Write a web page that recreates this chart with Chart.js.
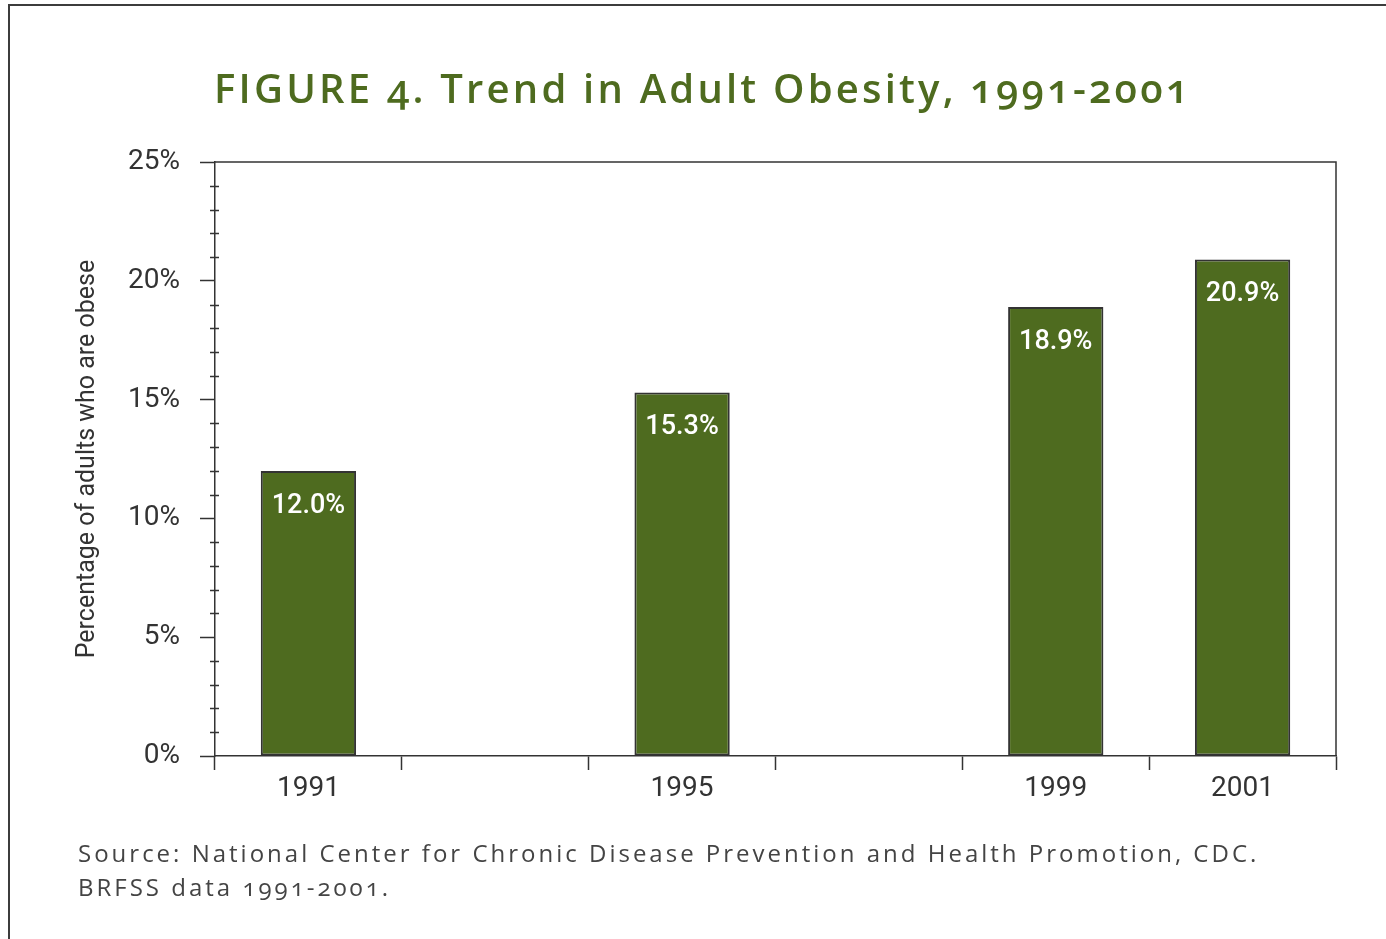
<!DOCTYPE html>
<html>
<head>
<meta charset="utf-8">
<script src="https://cdn.jsdelivr.net/npm/chart.js@4.4.1/dist/chart.umd.min.js"></script>
<style>
  html, body { margin: 0; padding: 0; background: #fff; }
  #wrap { position: relative; width: 1386px; height: 939px; overflow: hidden; }
  #frame { position: absolute; left: 8px; top: 4px; width: 1420px; height: 980px; border: 2px solid #3c3c3c; box-sizing: border-box; }
  #chart { position: absolute; left: 0; top: 0; }
  .title { position: absolute; left: 214px; top: 60px; font-family: "Open Sans", sans-serif; font-weight: 600;
    font-size: 40px; letter-spacing: 3.2px; color: #4e6b1f; white-space: nowrap; font-variant-numeric: oldstyle-nums; }
  .source { position: absolute; left: 78px; top: 836px; font-family: "Open Sans", sans-serif; font-size: 24px;
    letter-spacing: 3px; line-height: 34px; color: #444; white-space: nowrap; font-variant-numeric: oldstyle-nums; }
</style>
</head>
<body>
<div id="wrap">
  <div id="frame"></div>
  <canvas id="chart" width="1386" height="939"></canvas>
  <div class="title">FIGURE 4. Trend in Adult Obesity, 1991-2001</div>
  <div class="source">Source: National Center for Chronic Disease Prevention and Health Promotion, CDC.<br>BRFSS data 1991-2001.</div>
</div>
<script>
// obesity share by survey year (empty slots for the years between)
const years = ["1991", "1993", "1995", "1997", "1999", "2001"];
const obesity = [12.0, null, 15.3, null, 18.9, 20.9];
const yearLabels = ["1991", "", "1995", "", "1999", "2001"];
const yTicks = [0, 5, 10, 15, 20, 25];

const ink = "#333333";
const green = "#4e6b1f";
const axisFont = '"Liberation Sans Narrow", Roboto, sans-serif';

// short minor ticks on the y axis + top/right frame of the plot
const frameAndMinor = {
  id: "frameAndMinor",
  afterDraw(chart) {
    const ctx = chart.ctx;
    const a = chart.chartArea;
    const y = chart.scales.y;
    ctx.save();
    ctx.strokeStyle = ink;
    ctx.lineWidth = 1.5;
    ctx.beginPath();
    ctx.moveTo(a.left, a.top);
    ctx.lineTo(a.right, a.top);
    ctx.lineTo(a.right, a.bottom);
    for (let v = 0; v <= 25; v++) {
      if (yTicks.includes(v)) continue;
      const py = Math.round(y.getPixelForValue(v)) + 0.5;
      ctx.moveTo(a.left - 5, py);
      ctx.lineTo(a.left + 4, py);
    }
    ctx.stroke();
    ctx.restore();
  }
};

// value text inside the top of each bar
const barValues = {
  id: "barValues",
  afterDatasetsDraw(chart) {
    const ctx = chart.ctx;
    const meta = chart.getDatasetMeta(0);
    ctx.save();
    ctx.fillStyle = "#ffffff";
    ctx.font = "500 27px " + axisFont;
    ctx.textAlign = "center";
    ctx.textBaseline = "middle";
    meta.data.forEach((bar, i) => {
      if (obesity[i] == null) return;
      ctx.fillText(obesity[i].toFixed(1) + "%", bar.x, bar.y + 35);
    });
    ctx.restore();
  }
};

new Chart(document.getElementById("chart"), {
  type: "bar",
  data: {
    labels: years,
    datasets: [{
      data: obesity,
      backgroundColor: green,
      borderColor: ink,
      borderWidth: 2,
      borderSkipped: false,
      categoryPercentage: 1,
      barPercentage: 0.51
    }]
  },
  options: {
    responsive: false,
    animation: false,
    devicePixelRatio: 1,
    layout: { padding: { left: 10, top: 162, right: 50, bottom: 123 } },
    plugins: {
      legend: { display: false },
      tooltip: { enabled: false }
    },
    scales: {
      x: {
        afterFit(scale) { scale.height = 60; },
        grid: {
          offset: true,
          drawOnChartArea: false,
          tickLength: 14,
          tickColor: ink,
          tickWidth: 1.5
        },
        border: { color: ink, width: 1.5 },
        ticks: {
          autoSkip: false,
          maxRotation: 0,
          padding: 2,
          color: ink,
          font: { family: axisFont, size: 28 },
          callback: (v, i) => yearLabels[i]
        }
      },
      y: {
        min: 0,
        max: 25,
        afterFit(scale) { scale.width = 205; },
        grid: {
          drawOnChartArea: false,
          tickLength: 15,
          tickWidth: 1.5,
          tickColor: (c) => (yTicks.includes(c.tick.value) ? ink : "rgba(0,0,0,0)")
        },
        border: { color: ink, width: 1.5 },
        ticks: {
          stepSize: 1,
          autoSkip: false,
          padding: 20,
          color: ink,
          font: { family: axisFont, size: 28 },
          callback: (v) => (yTicks.includes(v) ? v + "%" : "")
        },
        title: {
          display: true,
          text: "Percentage of adults who are obese",
          color: ink,
          font: { family: axisFont, size: 25 },
          padding: { top: 63, bottom: 0 }
        }
      }
    }
  },
  plugins: [frameAndMinor, barValues]
});
</script>
</body>
</html>
